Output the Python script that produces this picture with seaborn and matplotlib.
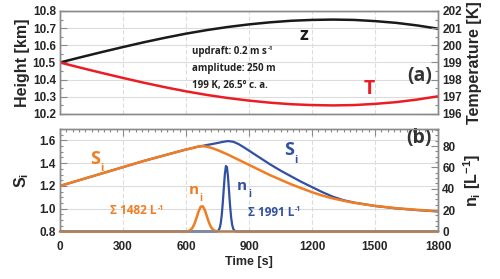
import matplotlib
matplotlib.use("Agg")
import matplotlib.pyplot as plt
import seaborn as sns
import pandas as pd
from matplotlib.ticker import MultipleLocator

# ---------------- data ----------------
time_a = [0, 100, 200, 300, 400, 500, 600, 700, 800, 900, 1000, 1100, 1200,
          1300, 1400, 1500, 1600, 1700, 1800]
height_km = [10.500, 10.531, 10.561, 10.590, 10.618, 10.644, 10.668, 10.689,
             10.707, 10.722, 10.734, 10.743, 10.748, 10.750, 10.748, 10.741,
             10.731, 10.716, 10.697]
temp_K = [199.00, 198.69, 198.39, 198.10, 197.82, 197.56, 197.32, 197.11,
          196.93, 196.78, 196.66, 196.57, 196.52, 196.50, 196.52, 196.59,
          196.69, 196.84, 197.03]

time_si_orange = [0, 100, 200, 300, 400, 500, 550, 600, 625, 650, 675, 700, 725,
                  750, 800, 850, 900, 950, 1000, 1050, 1100, 1150, 1200, 1250,
                  1300, 1350, 1400, 1500, 1600, 1700, 1800]
si_orange = [1.200, 1.255, 1.310, 1.365, 1.420, 1.470, 1.495, 1.520, 1.530,
             1.542, 1.550, 1.545, 1.532, 1.515, 1.475, 1.430, 1.385, 1.340,
             1.295, 1.255, 1.215, 1.180, 1.145, 1.115, 1.090, 1.070, 1.052,
             1.025, 1.005, 0.990, 0.978]

time_si_blue = [0, 100, 200, 300, 400, 500, 550, 600, 625, 650, 675, 700, 725,
                750, 775, 800, 825, 850, 875, 900, 950, 1000, 1050, 1100, 1150,
                1200, 1250, 1300, 1350, 1400, 1500, 1600, 1700, 1800]
si_blue = [1.200, 1.255, 1.310, 1.365, 1.420, 1.470, 1.495, 1.520, 1.530,
           1.542, 1.550, 1.560, 1.568, 1.577, 1.587, 1.594, 1.588, 1.568,
           1.540, 1.510, 1.450, 1.390, 1.335, 1.285, 1.235, 1.190, 1.145,
           1.105, 1.075, 1.054, 1.024, 1.003, 0.988, 0.976]

time_ni_orange = [0, 590, 600, 610, 620, 630, 640, 650, 660, 670, 680, 690, 700,
                  710, 720, 730, 740, 750, 760, 1800]
ni_orange = [0, 0, 0.1, 0.4, 1.2, 3.2, 7.0, 12.7, 18.8, 23.2, 23.6, 19.9, 13.9,
             8.0, 3.8, 1.5, 0.5, 0.1, 0, 0]

time_ni_blue = [0, 745, 750, 755, 760, 765, 770, 775, 780, 785, 790, 795, 800,
                805, 810, 815, 820, 825, 830, 835, 840, 1800]
ni_blue = [0, 0, 0.3, 1.1, 3.0, 7.2, 14.8, 26.4, 40.5, 53.6, 61.3, 60.4, 51.3,
           37.6, 23.8, 13.0, 6.1, 2.5, 0.9, 0.3, 0, 0]

x_ticks = [0, 300, 600, 900, 1200, 1500, 1800]

# ---------------- style ----------------
sns.set_theme(style="white")
plt.rcParams["font.family"] = ["Liberation Sans", "DejaVu Sans"]
plt.rcParams["mathtext.fontset"] = "custom"
plt.rcParams["mathtext.rm"] = "Liberation Sans:bold"
plt.rcParams["mathtext.it"] = "Liberation Sans:bold"
plt.rcParams["mathtext.bf"] = "Liberation Sans:bold"
plt.rcParams["mathtext.default"] = "bf"

ANN = ["Open Sans", "DejaVu Sans"]
BLACK = "#1a1a1a"
RED = "#ec1c24"
ORANGE = "#f07d22"
BLUE = "#3150a3"
SPINE = "#8a8a8a"
GRID = "#dcdcdc"
TICKLAB = "#262626"

fig = plt.figure(figsize=(5.0, 2.79), dpi=100)
ax1 = fig.add_axes([0.12, 0.5914, 0.756, 0.3692])
ax2 = fig.add_axes([0.12, 0.1703, 0.756, 0.3673])

df_a = pd.DataFrame({"t": time_a, "z": height_km, "T": temp_K})
df_so = pd.DataFrame({"t": time_si_orange, "s": si_orange})
df_sb = pd.DataFrame({"t": time_si_blue, "s": si_blue})
df_no = pd.DataFrame({"t": time_ni_orange, "n": ni_orange})
df_nb = pd.DataFrame({"t": time_ni_blue, "n": ni_blue})

# ---------------- panel (a) ----------------
sns.lineplot(data=df_a, x="t", y="z", ax=ax1, color=BLACK, lw=1.8)
ax1r = ax1.twinx()
sns.lineplot(data=df_a, x="t", y="T", ax=ax1r, color=RED, lw=1.8)
ax1.set_xlim(0, 1800)
ax1.set_ylim(10.2, 10.8)
ax1r.set_ylim(196, 202)

# ---------------- panel (b) ----------------
sns.lineplot(data=df_sb, x="t", y="s", ax=ax2, color=BLUE, lw=1.6)
sns.lineplot(data=df_so, x="t", y="s", ax=ax2, color=ORANGE, lw=1.8)
ax2r = ax2.twinx()
sns.lineplot(data=df_nb, x="t", y="n", ax=ax2r, color=BLUE, lw=1.6, clip_on=False)
sns.lineplot(data=df_no, x="t", y="n", ax=ax2r, color=ORANGE, lw=1.8, clip_on=False)
ax2.set_xlim(0, 1800)
ax2.set_ylim(0.8, 1.7)
ax2r.set_ylim(0, 96)

# ---------------- axes styling ----------------
for ax in (ax1, ax2):
    ax.set_xticks(x_ticks)
    ax.grid(True, axis="y", color=GRID, lw=0.8, ls="-")
    ax.grid(True, axis="x", color=GRID, lw=0.8, ls=(0, (4, 2)))
    ax.set_axisbelow(True)

ax1.xaxis.set_minor_locator(MultipleLocator(150))
ax1.yaxis.set_major_locator(MultipleLocator(0.1))
ax1.yaxis.set_minor_locator(MultipleLocator(0.05))
ax1r.yaxis.set_major_locator(MultipleLocator(1))
ax1r.yaxis.set_minor_locator(MultipleLocator(0.5))
ax1.tick_params(axis="x", labelbottom=False)

ax2.xaxis.set_minor_locator(MultipleLocator(30))
ax2.yaxis.set_major_locator(MultipleLocator(0.2))
ax2.yaxis.set_minor_locator(MultipleLocator(0.05))
ax2r.yaxis.set_major_locator(MultipleLocator(20))
ax2r.yaxis.set_minor_locator(MultipleLocator(5))
ax2.tick_params(axis="x", which="both", top=True)

for ax in (ax1, ax1r, ax2, ax2r):
    for s in ax.spines.values():
        s.set_color(SPINE)
        s.set_linewidth(1.0)
    ax.tick_params(which="both", direction="in", color=SPINE, width=0.8,
                   labelsize=8.5, labelcolor=TICKLAB)
    ax.tick_params(which="major", length=5, pad=3)
    ax.tick_params(which="minor", length=2.5)
    for lab in ax.get_xticklabels() + ax.get_yticklabels():
        lab.set_fontweight("bold")
ax2.tick_params(axis="x", pad=7)

lab_kw = dict(fontsize=11.5, fontweight="bold", color=TICKLAB)
ax1.set_xlabel("")
ax2.set_xlabel("Time [s]", labelpad=2, fontsize=9, fontweight="bold", color=TICKLAB)
ax1.set_ylabel("Height [km]", labelpad=2, **lab_kw)
ax1r.set_ylabel("Temperature [K]", labelpad=4, **lab_kw)
ax2.set_ylabel(r"$S_i$", labelpad=6, **lab_kw)
ax2r.set_ylabel(r"$n_i\ [L^{-1}]$", labelpad=4, **lab_kw)


# ---------------- annotations ----------------
def sub_text(ax, x, y, main, sub, color, size, subsize, dx, dy):
    t = ax.text(x, y, main, color=color, fontsize=size, fontweight="bold",
                family=ANN, ha="left", va="baseline")
    ax.annotate(sub, xy=(1, 0), xycoords=t, xytext=(dx, dy),
                textcoords="offset points", color=color, fontsize=subsize,
                fontweight="bold", family=ANN, ha="left", va="baseline")
    return t


def sup_text(ax, x, y, main, sup, color, size, supsize, dx, dy):
    t = ax.text(x, y, main, color=color, fontsize=size, fontweight="bold",
                family=ANN, ha="left", va="baseline")
    ax.annotate(sup, xy=(1, 1), xycoords=t, xytext=(dx, dy),
                textcoords="offset points", color=color, fontsize=supsize,
                fontweight="bold", family=ANN, ha="left", va="top")
    return t


ax1.text(1160, 10.631, "z", color=BLACK, fontsize=13, fontweight="bold",
         family=ANN, ha="center", va="baseline")
ax1.text(1475, 10.315, "T", color=RED, fontsize=14, fontweight="bold",
         family=ANN, ha="center", va="baseline")
ax1.text(1770, 10.39, "(a)", color="#333333", fontsize=14, fontweight="bold",
         family=ANN, ha="right", va="baseline")
sup_text(ax1, 629, 10.548, "updraft: 0.2 m s", "-1", "#222222", 7, 4.5, 0.5, 0)
ax1.text(629, 10.45, "amplitude: 250 m", color="#222222", fontsize=7,
         fontweight="bold", family=ANN, ha="left", va="baseline")
ax1.text(629, 10.353, "199 K, 26.5\u00b0 c. a.", color="#222222", fontsize=7,
         fontweight="bold", family=ANN, ha="left", va="baseline")

ax2.text(1770, 1.575, "(b)", color="#333333", fontsize=14, fontweight="bold",
         family=ANN, ha="right", va="baseline")
sub_text(ax2, 143, 1.396, "S", "i", ORANGE, 13, 8, 0.5, -2.5)
sub_text(ax2, 1065, 1.47, "S", "i", BLUE, 13, 8, 0.5, -2.5)
sub_text(ax2, 611, 1.128, "n", "i", ORANGE, 11, 7, 0.5, -2.5)
sub_text(ax2, 844, 1.163, "n", "i", BLUE, 11, 7, 0.5, -2.5)
sup_text(ax2, 240, 0.95, "\u03a3 1482 L", "-1", ORANGE, 8.5, 5, 0.5, -0.5)
sup_text(ax2, 895, 0.938, "\u03a3 1991 L", "-1", BLUE, 8.5, 5, 0.5, -0.5)

fig.savefig("out.png", dpi=100)
